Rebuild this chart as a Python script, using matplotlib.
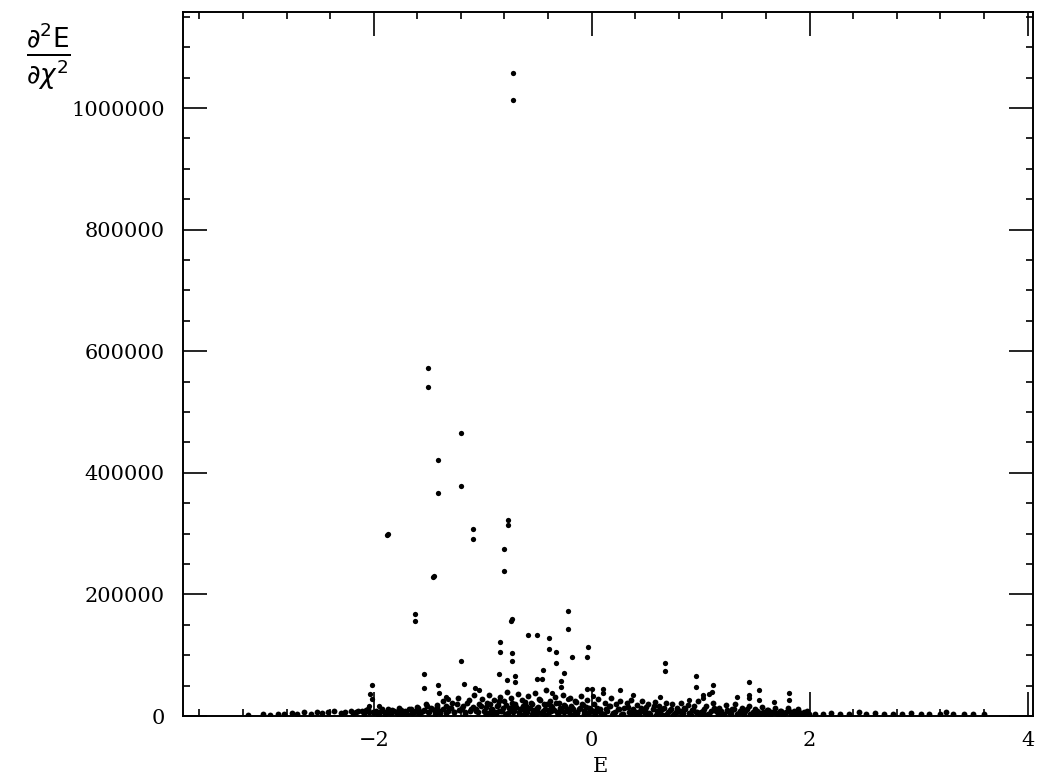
import matplotlib
matplotlib.use("Agg")
import matplotlib.pyplot as plt
from matplotlib.ticker import MultipleLocator, FuncFormatter

# isolated points well above the band
peak_e = [-0.72, -0.72, -1.50, -1.50, -1.20, -1.41, -1.20, -1.41, -0.77, -0.77,
          -1.88, -1.87, -1.09, -1.09, -0.80, -0.80, -1.46, -1.45, -1.62, -1.62,
          -0.74, -0.73, -0.22, -0.22, -0.58, -0.50, -0.84, -0.39, -0.03, -0.04,
          -0.84, -0.73, -0.73, -0.39, -0.33, -0.33, -0.18, -1.20]
peak_d2 = [1057000, 1013000, 572000, 541000, 465000, 421000, 379000, 367000, 323000, 315000,
           298000, 300000, 308000, 292000, 274000, 238000, 228000, 230000, 167000, 156000,
           157000, 159000, 172000, 143000, 133000, 134000, 121000, 128000, 113000, 97000,
           106000, 103000, 90000, 110000, 105000, 88000, 97000, 90000]

# points just above the band
mid_e = [-1.54, -1.54, -1.41, -1.17, -1.07, -1.03, -0.85, -0.78, -0.70, -0.70,
         -0.50, -0.45, -0.46, -0.25, -0.28, -0.28, -0.36, -0.22, -1.40, -1.34,
         -1.32, 0.00, 0.01, -2.02, -2.03, -2.02, -2.04, -1.95, 0.67, 0.67,
         0.96, 0.96, 1.11, 1.10, 1.08, 1.02, 1.02, 1.44, 1.44, 1.44,
         1.54, 1.54, 1.81, 1.81, 1.67, 1.33, 0.63, 0.38, 0.26, 0.10,
         0.10, -0.04, 0.89]
mid_d2 = [69000, 46000, 51000, 52000, 46000, 43000, 69000, 59000, 66000, 56000,
          61000, 75000, 61000, 70000, 57000, 47000, 38000, 28000, 38000, 32000,
          28000, 44000, 33000, 51000, 36000, 28000, 16000, 16000, 87000, 74000,
          66000, 48000, 51000, 39000, 36000, 35000, 30000, 56000, 35000, 30000,
          43000, 26000, 38000, 26000, 23000, 31000, 31000, 35000, 43000, 44000,
          38000, 44000, 26000]

# dense band near zero
band_e = [-3.15, -3.02, -2.95, -2.88, -2.82, -2.75, -2.70, -2.64, -2.58, -2.52,
          -2.47, -2.42, -2.36, -2.30, -2.26, -2.21, -2.16, -2.11, -2.07, -2.04,
          -1.99, -1.96, -1.93, -1.90, -1.87, -1.84, -1.81, -1.78, -1.75, -1.72,
          -1.69, -1.66, -1.63, -1.60, -1.58, -1.55, -1.52, -1.50, -1.47, -1.44,
          -1.42, -1.39, -1.36, -1.34, -1.31, -1.28, -1.26, -1.23, -1.21, -1.18,
          -1.16, -1.13, -1.11, -1.08, -1.06, -1.03, -1.01,
          -0.98, -0.96, -0.94, -0.92, -0.90, -0.88, -0.86, -0.84, -0.82, -0.80,
          -0.78, -0.76, -0.74, -0.72, -0.70, -0.68, -0.66, -0.64, -0.62, -0.60,
          -0.58, -0.56, -0.54, -0.52, -0.50, -0.48, -0.46, -0.44, -0.42, -0.40,
          -0.38, -0.36, -0.34, -0.32, -0.30, -0.28, -0.26, -0.24, -0.22, -0.20,
          -0.18, -0.16, -0.14, -0.12, -0.10, -0.08, -0.06, -0.04, -0.02,
          -0.97, -0.91, -0.85, -0.79, -0.73, -0.67, -0.61, -0.55, -0.49, -0.43,
          -0.37, -0.31, -0.25, -0.19, -0.13, -0.07, -0.01,
          0.02, 0.04, 0.06, 0.08, 0.10, 0.12, 0.14, 0.16, 0.18, 0.20,
          0.22, 0.24, 0.26, 0.28, 0.30, 0.32, 0.34, 0.36, 0.38, 0.40,
          0.42, 0.44, 0.46, 0.48, 0.50, 0.52, 0.54, 0.56, 0.58, 0.60,
          0.62, 0.64, 0.66, 0.68, 0.70, 0.72, 0.74, 0.76, 0.78, 0.80,
          0.82, 0.84, 0.86, 0.88, 0.90, 0.92, 0.94, 0.96, 0.98,
          0.03, 0.11, 0.19, 0.27, 0.35, 0.43, 0.51, 0.59, 0.67, 0.75,
          0.83, 0.91, 0.99,
          1.02, 1.05, 1.08, 1.11, 1.14, 1.17, 1.20, 1.23, 1.26, 1.29,
          1.32, 1.35, 1.38, 1.41, 1.44, 1.47, 1.50, 1.53, 1.56, 1.59,
          1.62, 1.65, 1.68, 1.71, 1.74, 1.77, 1.80, 1.83, 1.86, 1.89,
          1.92, 1.95, 1.98,
          1.04, 1.16, 1.28, 1.40, 1.52, 1.64, 1.76, 1.88,
          2.05, 2.12, 2.20, 2.28, 2.36, 2.45, 2.52, 2.60, 2.68, 2.77,
          2.85, 2.93, 3.02, 3.10, 3.20, 3.25, 3.32, 3.42, 3.50, 3.60]
band_d2 = [2000, 3000, 2500, 4000, 3000, 5000, 3500, 6000, 4000, 7000,
           5000, 6000, 8000, 5000, 7000, 9000, 6000, 8000, 10000, 7000,
           6000, 3000, 9000, 4000, 12000, 5000, 8000, 3000, 10000, 6000,
           4000, 11000, 7000, 15000, 5000, 9000, 20000, 6000, 13000, 4000,
           18000, 8000, 25000, 5000, 14000, 22000, 7000, 30000, 10000, 17000,
           4000, 26000, 12000, 34000, 8000, 19000, 28000,
           6000, 22000, 35000, 12000, 27000, 5000, 18000, 32000, 9000, 24000,
           40000, 14000, 30000, 7000, 20000, 36000, 11000, 26000, 4000, 16000,
           33000, 21000, 8000, 38000, 13000, 28000, 5000, 19000, 42000, 10000,
           25000, 15000, 31000, 6000, 22000, 12000, 35000, 17000, 8000, 29000,
           14000, 4000, 23000, 11000, 33000, 18000, 7000, 27000, 13000,
           2000, 3000, 9000, 3000, 15000, 2000, 10000, 3000, 6000, 2000,
           9000, 3000, 7000, 2000, 5000, 3000, 8000,
           20000, 6000, 28000, 12000, 3000, 22000, 9000, 16000, 30000, 5000,
           19000, 11000, 25000, 4000, 14000, 21000, 7000, 27000, 12000, 3000,
           18000, 9000, 24000, 6000, 15000, 20000, 4000, 11000, 23000, 8000,
           17000, 3000, 13000, 22000, 6000, 10000, 19000, 4000, 14000, 8000,
           21000, 5000, 12000, 18000, 3000, 10000, 16000, 7000, 24000,
           2000, 1000, 2000, 1000, 2000, 1000, 2000, 1000, 2000, 1000,
           2000, 1000, 2000,
           9000, 17000, 4000, 21000, 8000, 13000, 3000, 18000, 7000, 11000,
           20000, 5000, 14000, 9000, 17000, 3000, 12000, 7000, 15000, 4000,
           10000, 6000, 13000, 3000, 9000, 5000, 14000, 4000, 8000, 12000,
           3000, 6000, 9000,
           2000, 1000, 2000, 1000, 2000, 1000, 2000, 1000,
           4000, 3000, 5000, 3000, 4000, 6000, 3000, 5000, 3000, 4000,
           3000, 5000, 3000, 4000, 3000, 6000, 3000, 4000, 3000, 3000]

# second layer of the band, filling it in
fill_e = [-2.19, -2.14, -2.09, -2.05, -2.01, -1.98, -1.95, -1.92, -1.89, -1.86,
          -1.83, -1.80, -1.77, -1.74, -1.71, -1.68, -1.65, -1.62, -1.59, -1.565,
          -1.54, -1.515, -1.49, -1.465, -1.44, -1.415, -1.39, -1.365, -1.34, -1.315,
          -1.29, -1.265, -1.24, -1.215, -1.19, -1.165, -1.14, -1.115, -1.09, -1.065,
          -1.04, -1.015,
          -0.99, -0.97, -0.95, -0.93, -0.91, -0.89, -0.87, -0.85, -0.83, -0.81,
          -0.79, -0.77, -0.75, -0.73, -0.71, -0.69, -0.67, -0.65, -0.63, -0.61,
          -0.59, -0.57, -0.55, -0.53, -0.51, -0.49, -0.47, -0.45, -0.43, -0.41,
          -0.39, -0.37, -0.35, -0.33, -0.31, -0.29, -0.27, -0.25, -0.23, -0.21,
          -0.19, -0.17, -0.15, -0.13, -0.11, -0.09, -0.07, -0.05, -0.03, -0.01,
          0.01, 0.05, 0.09, 0.13, 0.17, 0.21, 0.25, 0.29, 0.33, 0.37,
          0.41, 0.45, 0.49, 0.53, 0.57, 0.61, 0.65, 0.69, 0.73, 0.77,
          0.81, 0.85, 0.89, 0.93, 0.97,
          1.00, 1.035, 1.065, 1.095, 1.125, 1.155, 1.185, 1.215, 1.245, 1.275,
          1.305, 1.335, 1.365, 1.395, 1.425, 1.455, 1.485, 1.515, 1.545, 1.575,
          1.605, 1.635, 1.665, 1.695, 1.725, 1.755, 1.785, 1.815, 1.845, 1.875,
          1.905, 1.935, 1.965, 1.995]
fill_d2 = [5000, 8000, 4000, 11000, 6000, 9000, 4000, 12000, 7000, 5000,
           10000, 6000, 13000, 4000, 8000, 11000, 5000, 9000, 14000, 6000,
           10000, 16000, 7000, 12000, 9000, 15000, 5000, 11000, 17000, 8000,
           13000, 6000, 19000, 10000, 14000, 7000, 21000, 9000, 15000, 11000,
           6000, 16000,
           9000, 15000, 5000, 19000, 11000, 7000, 16000, 24000, 8000, 13000,
           18000, 5000, 12000, 21000, 9000, 15000, 6000, 11000, 17000, 23000,
           7000, 13000, 19000, 10000, 4000, 15000, 26000, 8000, 12000, 20000,
           6000, 16000, 10000, 22000, 5000, 14000, 9000, 18000, 12000, 7000,
           17000, 11000, 24000, 6000, 13000, 20000, 9000, 15000, 5000, 10000,
           8000, 14000, 5000, 11000, 17000, 7000, 12000, 4000, 15000, 9000,
           6000, 13000, 10000, 5000, 16000, 8000, 11000, 4000, 12000, 7000,
           9000, 14000, 5000, 10000, 6000,
           6000, 11000, 4000, 8000, 13000, 5000, 9000, 3000, 10000, 6000,
           12000, 4000, 8000, 5000, 11000, 3000, 7000, 9000, 4000, 6000,
           10000, 3000, 7000, 5000, 8000, 3000, 6000, 9000, 4000, 5000,
           7000, 3000, 5000, 4000]

fig = plt.figure(figsize=(10.47, 7.81), dpi=100)
ax = fig.add_axes([0.1748, 0.0832, 0.8118, 0.9014])

ax.plot(band_e, band_d2, "o", color="black", ms=4.2, mew=0)
ax.plot(fill_e, fill_d2, "o", color="black", ms=4.2, mew=0)
ax.plot(mid_e, mid_d2, "o", color="black", ms=3.8, mew=0)
ax.plot(peak_e, peak_d2, "o", color="black", ms=3.8, mew=0)

ax.set_xlim(-3.75, 4.05)
ax.set_ylim(0, 1158000)

ax.xaxis.set_major_locator(MultipleLocator(2))
ax.xaxis.set_minor_locator(MultipleLocator(0.4))
ax.yaxis.set_major_locator(MultipleLocator(200000))
ax.yaxis.set_minor_locator(MultipleLocator(50000))
ax.yaxis.set_major_formatter(FuncFormatter(lambda v, p: "%d" % v))
ax.xaxis.set_major_formatter(FuncFormatter(lambda v, p: ("%d" % v).replace("-", "\u2212")))

ax.tick_params(which="both", direction="in", top=True, right=True, width=1.2, color="black")
ax.tick_params(which="major", length=17)
ax.tick_params(which="minor", length=5)
ax.tick_params(axis="y", which="major", pad=13)
ax.tick_params(axis="x", which="major", pad=11)
for lab in ax.get_xticklabels() + ax.get_yticklabels():
    lab.set_fontfamily("DejaVu Serif")
    lab.set_fontsize(15)
for s in ax.spines.values():
    s.set_linewidth(1.4)

fig.text(600 / 1047, 1 - 767 / 781, "E", family="DejaVu Serif", fontsize=15,
         ha="center", va="center")
fig.text(48 / 1047, 1 - 57 / 781, r"$\frac{\partial^2\mathrm{E}}{\partial\chi^2}$",
         fontsize=27, ha="center", va="center")

fig.savefig("out.png", dpi=100)
